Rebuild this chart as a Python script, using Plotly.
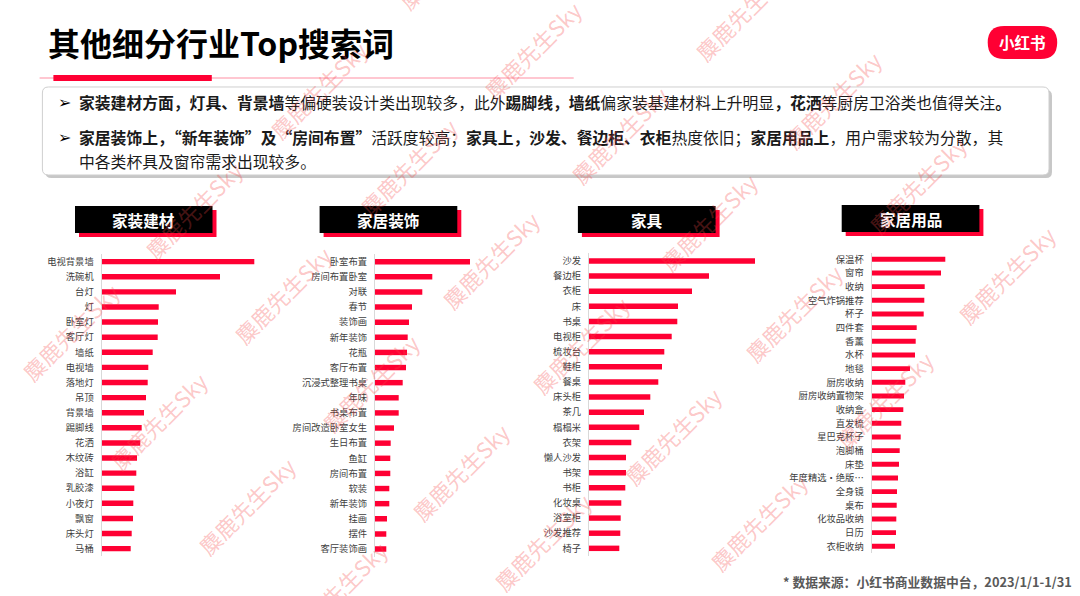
import plotly.graph_objects as go

W, H = 1080, 596

# ---------------- data ----------------
title_text = "其他细分行业Top搜索词"
cat_titles = ["家装建材", "家居装饰", "家具", "家居用品"]

jz_labels = ["电视背景墙", "洗碗机", "台灯", "灯", "卧室灯", "客厅灯", "墙纸", "电视墙", "落地灯", "吊顶",
             "背景墙", "踢脚线", "花洒", "木纹砖", "浴缸", "乳胶漆", "小夜灯", "飘窗", "床头灯", "马桶"]
jz_values = [152.6, 118.3, 74.3, 57.0, 56.3, 56.0, 51.0, 46.6, 46.0, 44.3,
             42.3, 40.0, 38.6, 35.3, 34.6, 32.6, 31.6, 31.3, 30.0, 29.0]

zs_labels = ["卧室布置", "房间布置卧室", "对联", "春节", "装饰画", "新年装饰", "花瓶", "客厅布置", "沉浸式整理书桌", "年味",
             "书桌布置", "房间改造卧室女生", "生日布置", "鱼缸", "房间布置", "软装", "新年装饰", "挂画", "摆件", "客厅装饰画"]
zs_values = [95.0, 57.3, 47.3, 37.0, 34.0, 32.7, 32.0, 31.0, 27.7, 23.7,
             23.7, 19.0, 15.7, 15.3, 15.3, 14.3, 14.3, 12.0, 11.3, 11.3]

jj_labels = ["沙发", "餐边柜", "衣柜", "床", "书桌", "电视柜", "梳妆台", "鞋柜", "餐桌", "床头柜",
             "茶几", "榻榻米", "衣架", "懒人沙发", "书架", "书柜", "化妆桌", "浴室柜", "沙发推荐", "椅子"]
jj_values = [166.0, 120.0, 103.0, 89.0, 88.3, 82.7, 75.3, 73.0, 69.3, 61.3,
             55.0, 50.3, 42.3, 37.0, 37.0, 36.3, 32.3, 31.7, 31.3, 30.3]

yp_labels = ["保温杯", "窗帘", "收纳", "空气炸锅推荐", "杯子", "四件套", "香薰", "水杯", "地毯", "厨房收纳", "厨房收纳置物架",
             "收纳盒", "直发梳", "星巴克杯子", "泡脚桶", "床垫", "年度精选•绝版…", "全身镜", "桌布", "化妆品收纳", "日历", "衣柜收纳"]
yp_values = [73.6, 69.3, 53.0, 52.6, 52.0, 45.0, 44.0, 43.3, 38.3, 33.6, 32.3,
             31.6, 29.6, 29.0, 28.0, 27.3, 26.3, 25.3, 25.0, 24.6, 24.3, 23.3]

bullet1 = ("<b>家装建材方面，灯具、背景墙</b>等偏硬装设计类出现较多，此外<b>踢脚线，墙纸</b>"
           "偏家装基建材料上升明显<b>，花洒</b>等厨房卫浴类也值得关注<b>。</b>")
bullet2 = ("<b>家居装饰上，“新年装饰”及“房间布置”</b>活跃度较高；<b>家具上，沙发、餐边柜、衣柜</b>"
           "热度依旧；<b>家居用品上</b>，用户需求较为分散，其")
bullet3 = "中各类杯具及窗帘需求出现较多。"
footer = "<b>* 数据来源：小红书商业数据中台，2023/1/1-1/31</b>"
logo_text = "<b>小红书</b>"
watermark = "麋鹿先生Sky"

# ---------------- layout helpers (pixels -> paper) ----------------
def px(x):
    return x / W

def py(y):
    return 1 - y / H

FONT = "Noto Sans CJK SC, Noto Sans, sans-serif"
RED = "#FF0033"

panels = [
    # labels, values, bar x start, x span(px), y top, y bottom, header box
    (jz_labels, jz_values, 101.7, 180, 254.1, 556.2, (75, 206, 212.5, 233)),
    (zs_labels, zs_values, 375.0, 120, 254.1, 556.6, (319.6, 206, 457.3, 233)),
    (jj_labels, jj_values, 589.0, 190, 253.4, 555.9, (577.9, 206, 715.6, 233)),
    (yp_labels, yp_values, 871.7, 100, 252.5, 553.1, (841.7, 205, 979.4, 232)),
]

fig = go.Figure()
layout_axes = {}
shapes = []
annotations = []

for i, (labels, values, x0, span, ytop, ybot, hdr) in enumerate(panels):
    k = "" if i == 0 else str(i + 1)
    n = len(labels)
    fig.add_trace(go.Bar(
        x=values, y=list(range(n)), orientation="h",
        marker=dict(color=RED, line=dict(width=0)),
        width=0.36, xaxis="x" + k, yaxis="y" + k,
        hoverinfo="x+text", hovertext=labels, showlegend=False,
    ))
    layout_axes["xaxis" + k] = dict(
        domain=[px(x0), px(x0 + span)], range=[0, span], anchor="y" + k,
        visible=False, showgrid=False, zeroline=False, fixedrange=True,
    )
    layout_axes["yaxis" + k] = dict(
        domain=[py(ybot), py(ytop)], range=[n - 0.5, -0.5], anchor="x" + k,
        tickvals=list(range(n)), ticktext=labels, showgrid=False, zeroline=False,
        showline=True, linecolor="#d9d9d9", linewidth=1.3, ticks="",
        ticklabelstandoff=5,
        tickfont=dict(family=FONT, size=9.3, color="#404040"), fixedrange=True,
    )
    # header box: red shadow + black box + white text
    hx0, hy0, hx1, hy1 = hdr
    shapes.append(dict(type="rect", xref="paper", yref="paper",
                       x0=px(hx0 + 4), x1=px(hx1 + 4), y0=py(hy1 + 4), y1=py(hy0 + 4),
                       fillcolor=RED, line=dict(width=0), layer="above"))
    shapes.append(dict(type="rect", xref="paper", yref="paper",
                       x0=px(hx0), x1=px(hx1), y0=py(hy1), y1=py(hy0),
                       fillcolor="#000000", line=dict(width=0), layer="above"))
    annotations.append(dict(text="<b>" + cat_titles[i] + "</b>", xref="paper", yref="paper",
                            x=px((hx0 + hx1) / 2), y=py((hy0 + hy1) / 2),
                            xanchor="center", yanchor="middle", showarrow=False,
                            font=dict(family=FONT, size=15.6, color="#ffffff")))


def rrect_path(x0, y0, x1, y1, r):
    pts = [
        ("M", [(x0 + r, y0)]), ("L", [(x1 - r, y0)]), ("Q", [(x1, y0), (x1, y0 + r)]),
        ("L", [(x1, y1 - r)]), ("Q", [(x1, y1), (x1 - r, y1)]),
        ("L", [(x0 + r, y1)]), ("Q", [(x0, y1), (x0, y1 - r)]),
        ("L", [(x0, y0 + r)]), ("Q", [(x0, y0), (x0 + r, y0)]),
    ]
    s = ""
    for cmd, ps in pts:
        s += cmd + " " + " ".join(f"{px(a):.5f},{py(b):.5f}" for a, b in ps) + " "
    return s + "Z"


# title underline
shapes.append(dict(type="line", xref="paper", yref="paper", x0=px(39.6), x1=px(573.7),
                   y0=py(78), y1=py(78), line=dict(color="#FF8FA3", width=1)))
shapes.append(dict(type="rect", xref="paper", yref="paper", x0=px(53.4), x1=px(211.8),
                   y0=py(81), y1=py(75), fillcolor=RED, line=dict(width=0)))
# logo pill
shapes.append(dict(type="path", xref="paper", yref="paper",
                   path=rrect_path(987.7, 26, 1057.2, 59, 16.5), fillcolor=RED, line=dict(width=0)))
# text box with shadow
shapes.append(dict(type="path", xref="paper", yref="paper",
                   path=rrect_path(45.4, 90, 1052, 178, 6), fillcolor="rgba(0,0,0,0.22)", line=dict(width=0)))
shapes.append(dict(type="path", xref="paper", yref="paper",
                   path=rrect_path(42.4, 87, 1049, 175, 6), fillcolor="#ffffff",
                   line=dict(color="#cfcfcf", width=1)))

annotations += [
    dict(text="<b>" + title_text + "</b>", x=px(46), y=py(42), xanchor="left", yanchor="middle",
         font=dict(family=FONT, size=32, color="#000000")),
    dict(text=logo_text, x=px(1022.5), y=py(42.5), xanchor="center", yanchor="middle",
         font=dict(family=FONT, size=15.5, color="#ffffff")),
    dict(text="➢", x=px(56), y=py(103), xanchor="left", yanchor="middle",
         font=dict(family="DejaVu Sans", size=16, color="#000000")),
    dict(text="➢", x=px(56), y=py(137), xanchor="left", yanchor="middle",
         font=dict(family="DejaVu Sans", size=16, color="#000000")),
    dict(text=bullet1, x=px(76.5), y=py(103), xanchor="left", yanchor="middle",
         font=dict(family=FONT, size=15.8, color="#1a1a1a")),
    dict(text=bullet2, x=px(76.5), y=py(137), xanchor="left", yanchor="middle",
         font=dict(family=FONT, size=15.8, color="#1a1a1a")),
    dict(text=bullet3, x=px(76.5), y=py(161), xanchor="left", yanchor="middle",
         font=dict(family=FONT, size=15.8, color="#1a1a1a")),
    dict(text=footer, x=px(1074), y=py(581), xanchor="right", yanchor="middle",
         font=dict(family=FONT, size=12.8, color="#595959")),
]
for a in annotations:
    a.setdefault("xref", "paper")
    a.setdefault("yref", "paper")
    a.setdefault("showarrow", False)

# watermark overlay
wm_centers = [(193, 210), (318, 90), (408, 167), (490, 260), (532, 50), (447, -40),
              (282, 295), (70, 332), (743, 12), (832, 100), (619, 135), (917, 185),
              (708, 222), (1006, 275), (793, 313), (158, 421), (246, 506), (370, 383),
              (460, 472), (338, 590), (542, 542), (580, 345), (672, 436), (758, 522), (884, 400)]
for cx, cy in wm_centers:
    annotations.append(dict(text=watermark, xref="paper", yref="paper", x=px(cx), y=py(cy),
                            xanchor="center", yanchor="middle", showarrow=False, textangle=-45,
                            font=dict(family=FONT, size=22, color="rgba(245,70,70,0.30)")))

fig.update_layout(
    width=W, height=H, autosize=False,
    margin=dict(l=0, r=0, t=0, b=0, pad=0),
    paper_bgcolor="#ffffff", plot_bgcolor="rgba(0,0,0,0)",
    shapes=shapes, annotations=annotations, showlegend=False,
    bargap=0.64,
    **layout_axes,
)

fig.write_html(
    "out.html",
    config={"displayModeBar": False},
    post_script="document.body.style.margin='0px';document.body.style.overflow='hidden';",
)
